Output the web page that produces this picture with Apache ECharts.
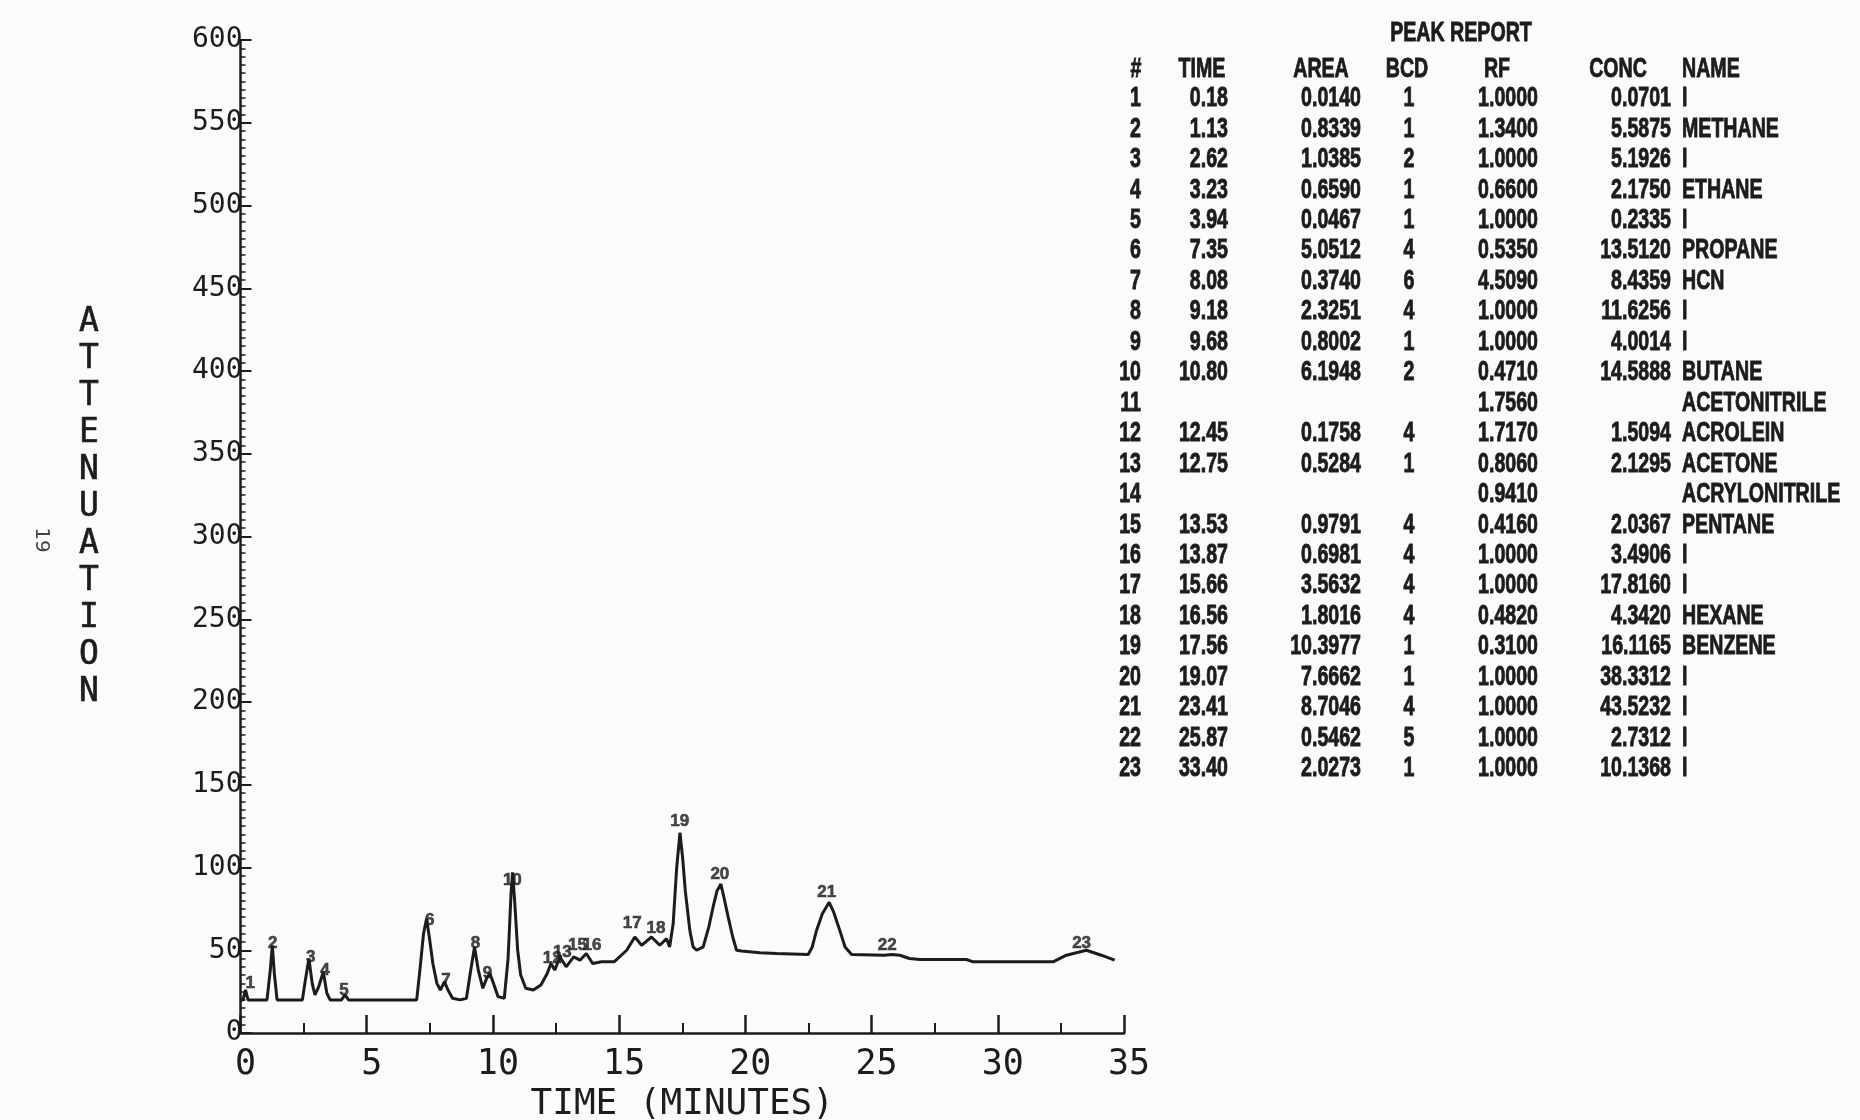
<!DOCTYPE html>
<html>
<head>
<meta charset="utf-8">
<script src="https://cdn.jsdelivr.net/npm/echarts@6/dist/echarts.min.js"></script>
<style>
html,body{margin:0;padding:0;background:#fbfbfa;}
#chart{width:1860px;height:1120px;}
</style>
</head>
<body>
<div id="chart"></div>
<script>
// ---- Chromatogram trace (time in minutes, attenuation) ----
const traceTime = [0,0.1,0.2,0.3,1.05,1.18,1.26,1.34,1.45,2.45,2.58,2.71,2.84,2.95,3.1,3.28,3.42,3.55,4.0,4.14,4.28,6.98,7.12,7.25,7.37,7.48,7.62,7.78,7.92,8.08,8.22,8.4,8.7,8.95,9.1,9.27,9.42,9.6,9.75,9.88,10.02,10.2,10.45,10.6,10.72,10.78,10.86,10.98,11.1,11.3,11.6,11.9,12.15,12.3,12.45,12.65,12.9,13.2,13.45,13.7,13.95,14.3,14.8,15.3,15.62,15.89,16.28,16.61,16.88,17.0,17.14,17.28,17.41,17.52,17.62,17.8,17.93,18.07,18.33,18.55,18.72,18.88,19.03,19.15,19.32,19.5,19.65,19.85,20.57,21.24,22.49,22.65,22.82,23.05,23.32,23.5,23.74,23.95,24.21,25.5,25.8,26.12,26.5,26.91,28.76,29.02,32.19,32.72,33.51,34.1,34.63];
const traceValue = [20,20,26,20,20,38,53,36,20,20,33,45,30,23,28,37,24,20,20,23,20,20,40,60,69,58,42,30,26,31,26,21,20,21,36,52,38,27,33,36,30,22,21,45,85,97,80,50,35,27,26,29,36,42,38,46,40,46,44,48,42,43,43,50,58,53,58,53,57,52,66,100,121,105,86,62,52,50,52,64,76,86,90,82,70,58,50,49.5,48.5,48,47.4,52,62,72,79,73,62,52,47.4,47,47.5,47,45,44.4,44.4,43,43,47,50,47,44];

// ---- Peak number labels on the trace ----
const peakLabelText  = ['1','2','3','4','5','6','7','8','9','10','12','13','15','16','17','18','19','20','21','22','23'];
const peakLabelTime  = [0.39,1.28,2.78,3.35,4.1,7.5,8.14,9.31,9.78,10.77,12.35,12.75,13.35,13.92,15.52,16.46,17.4,18.99,23.22,25.62,33.32];
const peakLabelValue = [30,54,46,38,25.5,68,32,54,36,92,45,49,52.8,52.8,66,63.5,128,96,85,53,54];

// ---- Peak report table ----
const reportTitle = 'PEAK REPORT';
const reportHeaders = ['#','TIME','AREA','BCD','RF','CONC','NAME'];
const peakNo   = [1,2,3,4,5,6,7,8,9,10,11,12,13,14,15,16,17,18,19,20,21,22,23];
const peakTime = [0.18,1.13,2.62,3.23,3.94,7.35,8.08,9.18,9.68,10.80,null,12.45,12.75,null,13.53,13.87,15.66,16.56,17.56,19.07,23.41,25.87,33.40];
const peakArea = [0.0140,0.8339,1.0385,0.6590,0.0467,5.0512,0.3740,2.3251,0.8002,6.1948,null,0.1758,0.5284,null,0.9791,0.6981,3.5632,1.8016,10.3977,7.6662,8.7046,0.5462,2.0273];
const peakBcd  = [1,1,2,1,1,4,6,4,1,2,null,4,1,null,4,4,4,4,1,1,4,5,1];
const peakRf   = [1.0,1.34,1.0,0.66,1.0,0.535,4.509,1.0,1.0,0.471,1.756,1.717,0.806,0.941,0.416,1.0,1.0,0.482,0.31,1.0,1.0,1.0,1.0];
const peakConc = [0.0701,5.5875,5.1926,2.1750,0.2335,13.5120,8.4359,11.6256,4.0014,14.5888,null,1.5094,2.1295,null,2.0367,3.4906,17.8160,4.3420,16.1165,38.3312,43.5232,2.7312,10.1368];
const peakName = ['I','METHANE','I','ETHANE','I','PROPANE','HCN','I','I','BUTANE','ACETONITRILE','ACROLEIN','ACETONE','ACRYLONITRILE','PENTANE','I','I','HEXANE','BENZENE','I','I','I','I'];

// ---- Axis labels ----
const xAxisTitle = 'TIME (MINUTES)';
const yAxisTitle = 'ATTENUATION';
const pageNumber = '19';

const INK = '#1c1c1c';
const tableFont = 'bold 28px "Liberation Sans", Arial, sans-serif';
const SX = 0.70;

function fmt(v, d){ return v === null || v === undefined ? '' : v.toFixed(d); }

const graphics = [];
function addText(txt, x, y, align){
  if (!txt) return;
  graphics.push({
    type:'text', x:x, y:y, scaleX:SX, silent:true,
    style:{text:txt, font:tableFont, fill:INK, stroke:INK, lineWidth:0.9,
           align:align, verticalAlign:'middle', textAlign:align, textVerticalAlign:'middle'}
  });
}
// table geometry
const colRight = {no:1141, time:1228, area:1361, rf:1538, conc:1671};
const bcdCenter = 1409, nameLeft = 1682;
const rowTop = 98.5, rowStep = 30.45;
addText(reportTitle, 1461, 33, 'center');
const headerX = [1136,1202,1321,1407,1497,1618,1682];
const headerAlign = ['center','center','center','center','center','center','left'];
reportHeaders.forEach((h,i)=>addText(h, headerX[i], 69, headerAlign[i]));
peakNo.forEach((n,i)=>{
  const y = rowTop + i*rowStep;
  addText(String(n), colRight.no, y, 'right');
  addText(fmt(peakTime[i],2), colRight.time, y, 'right');
  addText(fmt(peakArea[i],4), colRight.area, y, 'right');
  addText(peakBcd[i]===null?'':String(peakBcd[i]), bcdCenter, y, 'center');
  addText(fmt(peakRf[i],4), colRight.rf, y, 'right');
  addText(fmt(peakConc[i],4), colRight.conc, y, 'right');
  addText(peakName[i], nameLeft, y, 'left');
});
// stacked y-axis title
graphics.push({
  type:'text', x:89, y:304, silent:true,
  style:{text:yAxisTitle.split('').join('\n'), font:'33px "DejaVu Sans Mono", monospace',
         lineHeight:37, fill:INK, stroke:INK, lineWidth:0.6, align:'center', verticalAlign:'top',
         textAlign:'center', textVerticalAlign:'top'}
});
// page number
graphics.push({
  type:'text', x:41, y:540, rotation:-Math.PI/2, silent:true,
  style:{text:pageNumber, font:'20px "DejaVu Sans", sans-serif', fill:'#444',
         align:'center', verticalAlign:'middle', textAlign:'center', textVerticalAlign:'middle'}
});

const chart = echarts.init(document.getElementById('chart'), null, {renderer:'canvas'});
chart.setOption({
  backgroundColor:'#fbfbfa',
  animation:false,
  grid:{left:240.5, right:736, top:40, bottom:87, containLabel:false, outerBoundsMode:'none'},
  xAxis:{
    type:'value', min:0, max:35, interval:5,
    name:xAxisTitle, nameLocation:'middle', nameGap:47,
    nameTextStyle:{fontFamily:'DejaVu Sans Mono', fontSize:36, color:INK},
    axisLine:{show:true, onZero:false, lineStyle:{color:INK, width:2.5}},
    axisTick:{show:true, inside:true, length:18, lineStyle:{color:INK, width:2.5}},
    minorTick:{show:true, splitNumber:2, length:10, lineStyle:{color:INK, width:2}},
    axisLabel:{fontFamily:'DejaVu Sans Mono', fontSize:35, color:INK, margin:14, padding:[0,0,0,10]},
    splitLine:{show:false}, minorSplitLine:{show:false}
  },
  yAxis:{
    type:'value', min:0, max:600, interval:50,
    axisLine:{show:true, onZero:false, lineStyle:{color:INK, width:2.5}},
    axisTick:{show:true, inside:true, length:11, lineStyle:{color:INK, width:2}},
    minorTick:{show:true, splitNumber:10, length:5, lineStyle:{color:INK, width:1.5}},
    axisLabel:{fontFamily:'DejaVu Sans Mono', fontSize:28, color:INK, margin:-2, padding:[0,0,14,0]},
    splitLine:{show:false}, minorSplitLine:{show:false}
  },
  series:[
    {
      type:'line', data:traceTime.map((t,i)=>[t, traceValue[i]]),
      symbol:'none', smooth:false, silent:true,
      lineStyle:{color:INK, width:3}
    },
    {
      type:'scatter', symbolSize:1, silent:true,
      itemStyle:{color:'rgba(0,0,0,0)'},
      data:peakLabelText.map((s,i)=>({name:s, value:[peakLabelTime[i], peakLabelValue[i]]})),
      label:{show:true, position:'inside', formatter:'{b}', color:INK,
             fontFamily:'Liberation Sans', fontWeight:'bold', fontSize:17,
             textBorderColor:INK, textBorderWidth:0.6}
    }
  ],
  graphic:graphics
});
</script>
</body>
</html>
